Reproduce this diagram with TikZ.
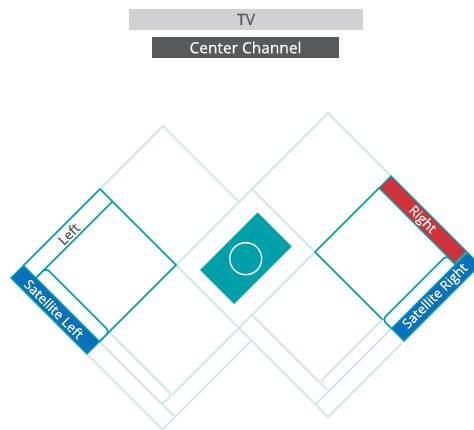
\documentclass[tikz,border=0pt]{standalone}
\usepackage{fontspec}
\setmainfont[FakeBold=0.5]{Open Sans}
\definecolor{lightl}{HTML}{CDE4E8}
\definecolor{tealc}{HTML}{00A0AA}
\definecolor{bluec}{HTML}{0A6FBD}
\definecolor{redc}{HTML}{CF3339}
\definecolor{barlight}{HTML}{D1D1D3}
\definecolor{bardark}{HTML}{58595B}
\tikzset{
  pale/.style={draw=lightl,line width=1.6pt,line join=miter},
  tealline/.style={draw=tealc,line width=1.7pt,line join=miter},
  slot/.style={fill=white,rounded corners=4pt},
  band/.style={draw=tealc,line width=1.2pt},
  lbl/.style={inner sep=0pt,font=\fontsize{13.5pt}{15pt}\selectfont},
  bar/.style={inner sep=0pt,font=\fontsize{15.5pt}{17pt}\selectfont}
}
\begin{document}
\begin{tikzpicture}[x=1pt,y=-1pt]
\clip (0,0) rectangle (474,430);
\fill[white] (0,0) rectangle (474,430);
% top bars
\fill[barlight] (129,9) rectangle (363,30);
\fill[bardark] (152,37) rectangle (339,58);
\node[bar,text=bardark] (tv) at (246,19.5) {TV};
\node[bar,text=white] (cc) at (245.5,47.5) {Center Channel};
\begin{scope}[x={(.5pt,-.5pt)},y={(-.5pt,-.5pt)}]
% pale room outlines (s = x+y, d = y-x)
\draw[pale] (441,-37) -- (289,-37) -- (289,89);
\draw[pale] (289,267) -- (592,267) -- (592,89);
\draw[pale] (441,242) -- (592,242);
\draw[pale] (567,89) -- (567,223);
\draw[pale,slot] (441,223) -- (567,223) -- (567,242) -- (441,242);
\draw[pale] (441,-63) -- (567,-63) -- (567,89) -- (441,89) -- cycle;
\draw[pale] (441,-63) -- (441,-215) -- (567,-215);
\draw[pale] (567,89) -- (745,89) -- (745,-63);
\draw[pale] (720,89) -- (720,-63);
\draw[pale] (567,63) -- (702,63);
\draw[pale,slot] (702,-63) -- (702,63) -- (720,63) -- (720,-63);
% left teal room
\draw[tealline] (289,89) -- (441,89) -- (441,242);
\draw[tealline] (314,89) -- (314,242);
\draw[tealline,slot] (314,242) -- (314,222) -- (441,222) -- (441,242);
\draw[tealline] (289,89) -- (289,242);
\draw[band,fill=bluec] (289,242) -- (441,242) -- (441,267) -- (289,267) -- cycle;
% right teal room
\draw[tealline] (567,-191) -- (567,-63) -- (702,-63);
\draw[tealline,slot] (720,-191) -- (702,-191) -- (702,-63) -- (720,-63);
\draw[band,fill=redc] (567,-215) -- (718,-215) -- (718,-191) -- (567,-191) -- cycle;
\draw[band,fill=bluec] (720,-215) -- (745,-215) -- (745,-63) -- (720,-63) -- cycle;
% centre
\fill[tealc] (470,-45) -- (538,-45) -- (538,70) -- (470,70) -- cycle;
\end{scope}
\draw[white,line width=1.4pt] (245.7,258.7) circle (16);
\node[lbl,text=bardark,rotate=45] (left) at (68.7,234) {Left};
\node[lbl,text=white,rotate=-45] (satl) at (54,309) {Satellite Left};
\node[lbl,text=white,rotate=-45] (right) at (422,220) {Right};
\node[lbl,text=white,rotate=45] (satr) at (435.7,296.7) {Satellite Right};
\end{tikzpicture}
\end{document}
